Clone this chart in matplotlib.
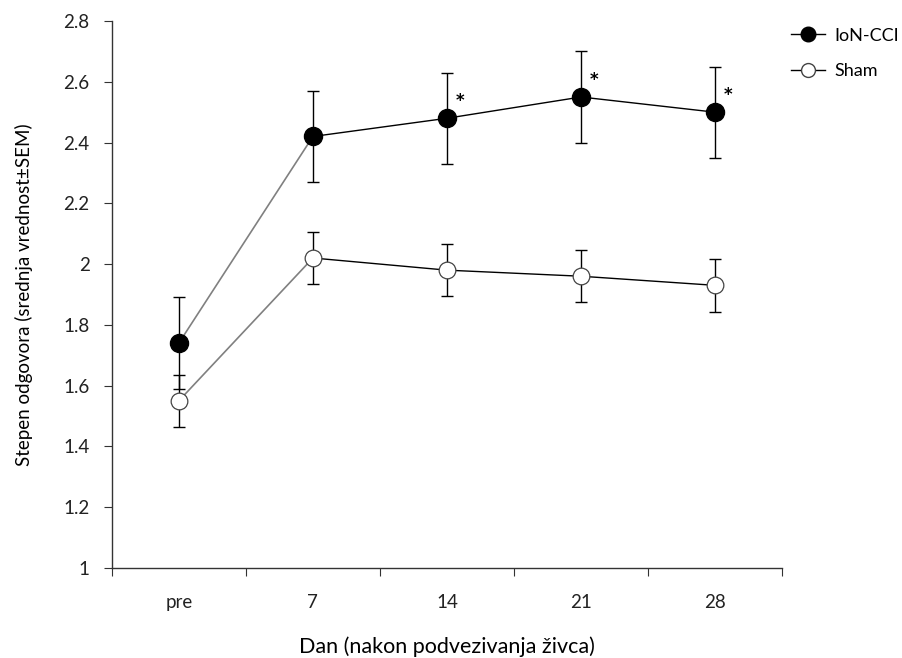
import matplotlib
matplotlib.use("Agg")
import matplotlib.pyplot as plt
from matplotlib.lines import Line2D

days = ["pre", "7", "14", "21", "28"]
cci_mean = [1.74, 2.42, 2.48, 2.55, 2.50]
cci_sem = [0.15, 0.15, 0.15, 0.15, 0.15]
sham_mean = [1.55, 2.02, 1.98, 1.96, 1.93]
sham_sem = [0.085, 0.085, 0.085, 0.085, 0.087]
significant = [False, False, True, True, True]

plt.rcParams["font.family"] = ["Lato", "DejaVu Sans"]

fig = plt.figure(figsize=(9.02, 6.58), dpi=100)
ax = fig.add_axes([0.124, 0.137, 0.743, 0.831])

x = list(range(len(days)))

# first segment gray, rest black (as in the original)
for mean in (cci_mean, sham_mean):
    ax.plot(x[:2], mean[:2], color="#808080", lw=1.2, zorder=2)
    ax.plot(x[1:], mean[1:], color="#000000", lw=1.0, zorder=2)

ax.errorbar(x, cci_mean, yerr=cci_sem, fmt="none", ecolor="black",
            elinewidth=1.0, capsize=4.5, capthick=1.0, zorder=3)
ax.errorbar(x, sham_mean, yerr=sham_sem, fmt="none", ecolor="black",
            elinewidth=1.0, capsize=4.5, capthick=1.0, zorder=3)

ax.plot(x, cci_mean, "o", ms=13, mfc="black", mec="black", zorder=4)
ax.plot(x, sham_mean, "o", ms=12, mfc="white", mec="#444444", mew=0.9, zorder=4)

for xi, yi, sig in zip(x, cci_mean, significant):
    if sig:
        ax.annotate("*", (xi, yi), xytext=(6, 6), textcoords="offset points",
                    fontsize=12, fontweight="bold", family="DejaVu Sans",
                    ha="left", va="bottom")

ax.set_xlim(-0.5, 4.5)
ax.set_ylim(1, 2.8)
ax.set_xticks([i - 0.5 for i in range(len(days) + 1)])
ax.set_xticklabels([])
ax.set_xticks(x, minor=True)
ax.set_xticklabels(days, minor=True)
ax.tick_params(axis="x", which="minor", length=0, pad=19, labelsize=13.5, labelcolor="#222222")
ax.tick_params(axis="x", which="major", direction="out", length=6, color="#333333")
yt = [1, 1.2, 1.4, 1.6, 1.8, 2, 2.2, 2.4, 2.6, 2.8]
ax.set_yticks(yt)
ax.set_yticklabels([f"{v:g}" for v in yt])
ax.tick_params(axis="y", direction="out", length=6, pad=10, labelsize=13.5,
               color="#333333", labelcolor="#222222")

for side in ("top", "right"):
    ax.spines[side].set_visible(False)
for side in ("left", "bottom"):
    ax.spines[side].set_color("#333333")
    ax.spines[side].set_linewidth(1.0)

ax.set_xlabel("Dan (nakon podvezivanja živca)", fontsize=15.5, labelpad=18)
ax.set_ylabel("Stepen odgovora (srednja vrednost±SEM)", fontsize=13.5, labelpad=22)

handles = [
    Line2D([], [], color="black", lw=1.0, marker="o", ms=10.5, mfc="black", mec="black"),
    Line2D([], [], color="black", lw=1.0, marker="o", ms=10, mfc="white", mec="#444444"),
]
fig.legend(handles, ["IoN-CCI", "Sham"], loc="upper left", bbox_to_anchor=(0.877, 0.958),
           frameon=False, fontsize=13, handlelength=1.9, handletextpad=0.5,
           labelspacing=1.1, borderpad=0, borderaxespad=0)

fig.savefig("out.png", dpi=100)
